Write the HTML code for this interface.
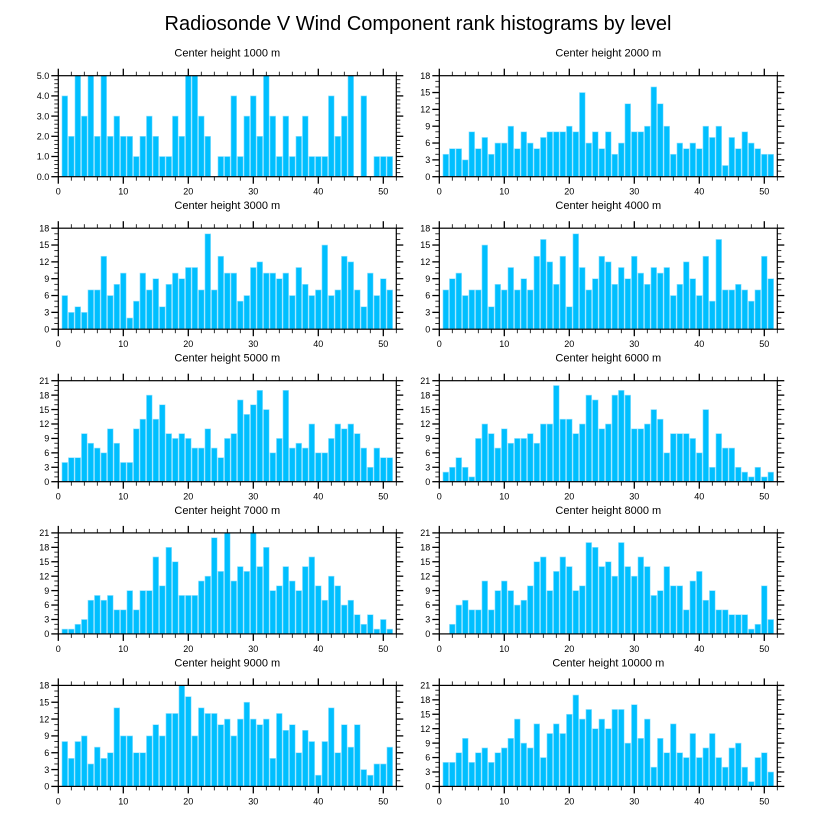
<!DOCTYPE html>
<html><head><meta charset="utf-8"><style>
html,body{margin:0;padding:0;background:#fff;}
svg{display:block;font-family:"Liberation Sans",sans-serif;}
</style></head><body>
<svg id="chart" width="818" height="824" viewBox="0 0 818 824" xmlns="http://www.w3.org/2000/svg">
<text x="418" y="30" font-size="20" text-anchor="middle">Radiosonde V Wind Component rank histograms by level</text>
</svg>
<script>
const levels = ["1000","2000","3000","4000","5000","6000","7000","8000","9000","10000"];
const yMaxes = [5,18,18,18,21,21,21,21,18,21];
const h1000 = [4,2,5,3,5,2,5,2,3,2,2,1,2,3,2,1,1,3,2,5,5,3,2,0,1,1,4,1,3,4,2,5,3,1,3,1,2,3,1,1,1,4,2,3,5,0,4,0,1,1,1];
const h2000 = [4,5,5,3,8,5,7,4,6,6,9,5,8,6,5,7,8,8,8,9,8,15,6,8,5,8,4,6,13,8,8,9,16,13,9,4,6,5,6,5,9,7,9,2,7,5,8,6,5,4,4];
const h3000 = [6,3,4,3,7,7,13,6,8,10,2,5,10,7,9,4,8,10,9,11,11,7,17,7,13,10,10,5,6,11,12,10,10,9,10,6,11,8,6,7,15,6,7,13,12,7,4,10,6,9,7];
const h4000 = [7,9,10,6,7,7,15,4,8,7,11,7,9,7,13,16,12,8,13,4,17,11,7,9,13,12,8,11,9,13,10,8,11,10,11,6,8,12,9,6,13,5,16,7,7,8,7,5,7,13,9];
const h5000 = [4,5,5,10,8,7,6,11,8,4,4,11,13,18,13,16,10,9,10,9,7,7,11,7,5,9,10,17,14,16,19,15,6,9,19,7,8,7,12,6,6,9,12,11,12,10,7,3,7,5,5];
const h6000 = [2,3,5,3,1,9,12,10,7,11,8,9,9,10,8,12,12,20,13,13,10,12,18,17,11,12,18,19,18,11,11,12,15,13,6,10,10,10,9,6,15,3,10,7,7,3,2,1,3,1,2];
const h7000 = [1,1,2,3,7,8,7,8,5,5,9,5,9,9,16,10,18,15,8,8,8,11,12,20,13,21,11,14,13,21,14,18,9,10,14,11,9,14,16,10,7,12,10,6,7,4,2,4,1,3,1];
const h8000 = [0,2,6,7,5,5,11,5,9,11,9,6,7,10,15,16,9,13,16,14,9,10,19,18,14,15,12,19,14,12,16,14,8,9,14,10,10,5,11,13,7,9,5,5,4,4,4,1,2,10,3];
const h9000 = [8,5,8,9,4,7,5,6,14,9,9,6,6,9,11,9,13,13,18,16,9,14,13,13,11,12,9,12,15,12,11,12,5,13,10,11,6,10,8,2,8,14,6,11,7,11,3,2,4,4,7];
const h10000 = [5,5,7,10,5,7,8,5,7,8,10,14,9,8,13,6,11,13,11,15,19,14,16,12,14,12,16,16,9,17,10,14,4,10,7,13,7,6,11,6,8,11,6,4,8,9,4,1,6,7,3];
const series = [h1000,h2000,h3000,h4000,h5000,h6000,h7000,h8000,h9000,h10000];
const xTicks = [0,10,20,30,40,50];

const NS="http://www.w3.org/2000/svg";
const svg=document.getElementById('chart');
function mk(tag,attrs,parent){const e=document.createElementNS(NS,tag);for(const k in attrs)e.setAttribute(k,attrs[k]);parent.appendChild(e);return e;}

const colX=[58.3,439.3], pw=338, rowY=[75.7,228.2,380.7,532.9,685.4], ph=101;
series.forEach((vals,idx)=>{
  const col=idx%2,row=Math.floor(idx/2);
  const x0=colX[col],y0=rowY[row],ymax=yMaxes[idx];
  const g=mk('g',{},svg);
  
  
  const sx=v=>x0+v/52*pw, sy=v=>y0+ph-v/ymax*ph;
  const t=mk('text',{x:x0+pw/2,y:y0-19,'font-size':11,'text-anchor':'middle'},g);
  t.textContent='Center height '+levels[idx]+' m';
  
  
  vals.forEach((v,i)=>{
    if(v<=0)return;
    const bx=sx(i+1-0.44),bw=sx(0.88)-sx(0);
    const r=mk('rect',{x:bx,y:sy(v),width:bw,height:sy(0)-sy(v),fill:'#00bfff',stroke:'#9fe4ff','stroke-width':0.6},g);
    
    
  });
  // frame
  const fr=mk('rect',{x:x0,y:y0,width:pw,height:ph,fill:'none',stroke:'#000','stroke-width':1.2},g);
  
  
  // x ticks
  for(let v=0;v<=52;v+=2){
    const maj=v%10===0,len=maj?7:4,X=sx(v);
    mk('line',{x1:X,x2:X,y1:y0+ph,y2:y0+ph+len,stroke:'#000','stroke-width':maj?1.3:0.8},g);
    mk('line',{x1:X,x2:X,y1:y0,y2:y0-len,stroke:'#000','stroke-width':maj?1.3:0.8},g);
  }
  xTicks.forEach(v=>{
    const tl=mk('text',{x:sx(v),y:y0+ph+18,'font-size':9,'text-anchor':'middle'},g);
    tl.textContent=v;
    
    
  });
  // y ticks
  const step=ymax===5?1:3, minor=ymax===5?0.2:1;
  for(let k=0;k<=Math.round(ymax/minor);k++){
    const v=k*minor,maj=Math.abs(v/step-Math.round(v/step))<1e-6,len=maj?7:4,Y=sy(v);
    mk('line',{x1:x0,x2:x0-len,y1:Y,y2:Y,stroke:'#000','stroke-width':maj?1.3:0.8},g);
    mk('line',{x1:x0+pw,x2:x0+pw+len,y1:Y,y2:Y,stroke:'#000','stroke-width':maj?1.3:0.8},g);
    if(maj){
      const yl=mk('text',{x:x0-9,y:Y+3.2,'font-size':9,'text-anchor':'end'},g);
      yl.textContent=ymax===5?v.toFixed(1):Math.round(v);
      
      
    }
  }
});
</script>
</body></html>
